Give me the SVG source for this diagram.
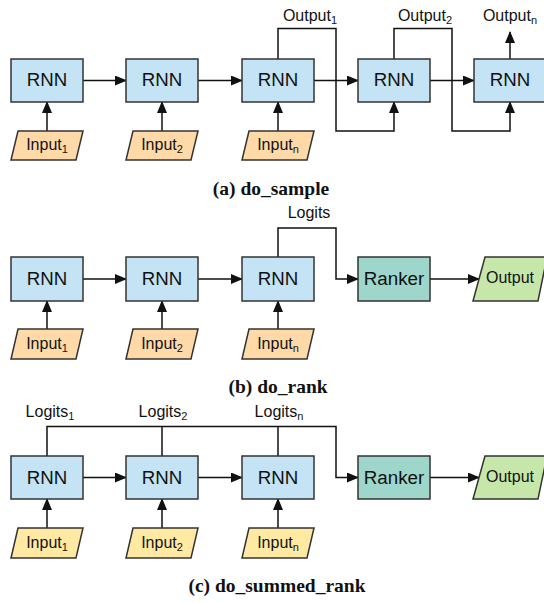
<svg xmlns="http://www.w3.org/2000/svg" width="544" height="603" viewBox="0 0 544 603">
<defs>
<style>
.rnn{fill:#c4e4f6;stroke:#333;stroke-width:1.5}
.ranker{fill:#9ed6cb;stroke:#333;stroke-width:1.5}
.inA{fill:#ffd9a8;stroke:#333;stroke-width:1.5}
.inC{fill:#ffe9a3;stroke:#333;stroke-width:1.5}
.out{fill:#c7e7aa;stroke:#333;stroke-width:1.5}
.t{font-family:"Liberation Sans",Arial,sans-serif;fill:#111;text-anchor:middle}
.big{font-size:18.7px}
.rk{font-size:18.8px}
.lbl{font-size:16px}
.sub{font-size:11px}
.cap{font-family:"Liberation Serif","Times New Roman",serif;font-weight:bold;font-size:19.5px;fill:#111;text-anchor:middle}
.c{fill:none;stroke:#111;stroke-width:1.5}
</style>
<marker id="ah" markerUnits="userSpaceOnUse" markerWidth="12" markerHeight="10" refX="11" refY="5" orient="auto">
<path d="M0,0 L12,5 L0,10 z" fill="#111"/>
</marker>
</defs>
<rect width="544" height="603" fill="#fff"/>

<!-- Section (a) -->
<g id="connectors-a">
<path class="c" d="M83,80.5 H126" marker-end="url(#ah)"/>
<path class="c" d="M198,80.5 H242" marker-end="url(#ah)"/>
<path class="c" d="M314,80.5 H358" marker-end="url(#ah)"/>
<path class="c" d="M430,80.5 H474" marker-end="url(#ah)"/>
<path class="c" d="M47,131 V102" marker-end="url(#ah)"/>
<path class="c" d="M162,131 V102" marker-end="url(#ah)"/>
<path class="c" d="M278,131 V102" marker-end="url(#ah)"/>
<path class="c" d="M278,59 V28.5 H336 V131 H394 V102" marker-end="url(#ah)"/>
<path class="c" d="M394,59 V28.5 H452 V131 H510 V102" marker-end="url(#ah)"/>
<path class="c" d="M510,59 V32" marker-end="url(#ah)"/>
</g>
<g id="a-rnn1"><rect class="rnn" x="11" y="59" width="72" height="43"/><text class="t big" x="47" y="86">RNN</text></g>
<g id="a-rnn2"><rect class="rnn" x="126" y="59" width="72" height="43"/><text class="t big" x="162" y="86">RNN</text></g>
<g id="a-rnn3"><rect class="rnn" x="242" y="59" width="72" height="43"/><text class="t big" x="278" y="86">RNN</text></g>
<g id="a-rnn4"><rect class="rnn" x="358" y="59" width="72" height="43"/><text class="t big" x="394" y="86">RNN</text></g>
<g id="a-rnn5"><rect class="rnn" x="474" y="59" width="80" height="43"/><text class="t big" x="510" y="86">RNN</text></g>
<g id="a-in1"><polygon class="inA" points="18,131 83,131 76,160 11,160"/><text class="t lbl" x="47" y="150">Input<tspan class="sub" dy="3">1</tspan></text></g>
<g id="a-in2"><polygon class="inA" points="133,131 198,131 191,160 126,160"/><text class="t lbl" x="162" y="150">Input<tspan class="sub" dy="3">2</tspan></text></g>
<g id="a-in3"><polygon class="inA" points="249,131 314,131 307,160 242,160"/><text class="t lbl" x="278" y="150">Input<tspan class="sub" dy="3">n</tspan></text></g>
<g id="a-labels">
<text class="t lbl" x="310" y="20.5">Output<tspan class="sub" dy="3">1</tspan></text>
<text class="t lbl" x="425" y="20.5">Output<tspan class="sub" dy="3">2</tspan></text>
<text class="t lbl" x="510" y="20.5">Output<tspan class="sub" dy="3">n</tspan></text>
</g>
<text class="cap" x="271" y="195">(a) do_sample</text>

<!-- Section (b) -->
<g id="connectors-b">
<path class="c" d="M83,279 H126" marker-end="url(#ah)"/>
<path class="c" d="M198,279 H242" marker-end="url(#ah)"/>
<path class="c" d="M47,329 V301" marker-end="url(#ah)"/>
<path class="c" d="M162,329 V301" marker-end="url(#ah)"/>
<path class="c" d="M278,329 V301" marker-end="url(#ah)"/>
<path class="c" d="M278,257 V228 H336 V279 H358" marker-end="url(#ah)"/>
<path class="c" d="M430,279 H479" marker-end="url(#ah)"/>
</g>
<g id="b-rnn1"><rect class="rnn" x="11" y="257" width="72" height="44"/><text class="t big" x="47" y="285">RNN</text></g>
<g id="b-rnn2"><rect class="rnn" x="126" y="257" width="72" height="44"/><text class="t big" x="162" y="285">RNN</text></g>
<g id="b-rnn3"><rect class="rnn" x="242" y="257" width="72" height="44"/><text class="t big" x="278" y="285">RNN</text></g>
<g id="b-ranker"><rect class="ranker" x="358" y="257" width="72" height="44"/><text class="t rk" x="394" y="284.5">Ranker</text></g>
<g id="b-output"><polygon class="out" points="485,257 547,257 538,301 473,301"/><text class="t lbl" x="510" y="283">Output</text></g>
<g id="b-in1"><polygon class="inA" points="18,329 83,329 76,359 11,359"/><text class="t lbl" x="47" y="348.5">Input<tspan class="sub" dy="3">1</tspan></text></g>
<g id="b-in2"><polygon class="inA" points="133,329 198,329 191,359 126,359"/><text class="t lbl" x="162" y="348.5">Input<tspan class="sub" dy="3">2</tspan></text></g>
<g id="b-in3"><polygon class="inA" points="249,329 314,329 307,359 242,359"/><text class="t lbl" x="278" y="348.5">Input<tspan class="sub" dy="3">n</tspan></text></g>
<text class="t lbl" x="309" y="217.5">Logits</text>
<text class="cap" x="278" y="393">(b) do_rank</text>

<!-- Section (c) -->
<g id="connectors-c">
<path class="c" d="M83,477.5 H126" marker-end="url(#ah)"/>
<path class="c" d="M198,477.5 H242" marker-end="url(#ah)"/>
<path class="c" d="M47,528 V499" marker-end="url(#ah)"/>
<path class="c" d="M162,528 V499" marker-end="url(#ah)"/>
<path class="c" d="M278,528 V499" marker-end="url(#ah)"/>
<path class="c" d="M47,456 V426.5 H336 V477.5 H358" marker-end="url(#ah)"/>
<path class="c" d="M162,456 V426.5"/>
<path class="c" d="M278,456 V426.5"/>
<path class="c" d="M430,477.5 H479" marker-end="url(#ah)"/>
</g>
<g id="c-rnn1"><rect class="rnn" x="11" y="456" width="72" height="43"/><text class="t big" x="47" y="484">RNN</text></g>
<g id="c-rnn2"><rect class="rnn" x="126" y="456" width="72" height="43"/><text class="t big" x="162" y="484">RNN</text></g>
<g id="c-rnn3"><rect class="rnn" x="242" y="456" width="72" height="43"/><text class="t big" x="278" y="484">RNN</text></g>
<g id="c-ranker"><rect class="ranker" x="358" y="456" width="72" height="43"/><text class="t rk" x="394" y="483.5">Ranker</text></g>
<g id="c-output"><polygon class="out" points="485,456 547,456 538,499 473,499"/><text class="t lbl" x="510" y="482">Output</text></g>
<g id="c-in1"><polygon class="inC" points="18,528 83,528 76,558 11,558"/><text class="t lbl" x="47" y="547.5">Input<tspan class="sub" dy="3">1</tspan></text></g>
<g id="c-in2"><polygon class="inC" points="133,528 198,528 191,558 126,558"/><text class="t lbl" x="162" y="547.5">Input<tspan class="sub" dy="3">2</tspan></text></g>
<g id="c-in3"><polygon class="inC" points="249,528 314,528 307,558 242,558"/><text class="t lbl" x="278" y="547.5">Input<tspan class="sub" dy="3">n</tspan></text></g>
<g id="c-labels">
<text class="t lbl" x="50" y="417">Logits<tspan class="sub" dy="3">1</tspan></text>
<text class="t lbl" x="163" y="417">Logits<tspan class="sub" dy="3">2</tspan></text>
<text class="t lbl" x="279" y="417">Logits<tspan class="sub" dy="3">n</tspan></text>
</g>
<text class="cap" x="277" y="592">(c) do_summed_rank</text>
</svg>
